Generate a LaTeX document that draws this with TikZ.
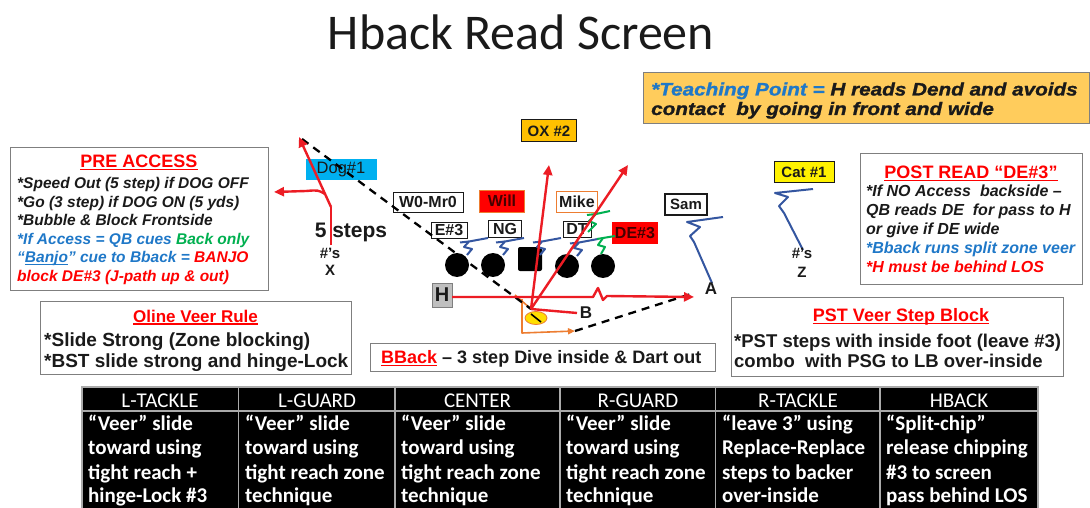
\documentclass[tikz,border=0pt]{standalone}
\usepackage{fontspec}
\setmainfont{Liberation Sans}
\newfontfamily\calfont{Carlito}
\newfontfamily\tpfont[FakeStretch=1.15,BoldItalicFeatures={FakeBold=1.2}]{Liberation Sans}
\usetikzlibrary{arrows.meta,shapes.geometric}

\definecolor{ink}{RGB}{26,26,26}
\definecolor{txtred}{RGB}{255,0,0}
\definecolor{txtblue}{RGB}{31,120,200}
\definecolor{txtgreen}{RGB}{0,176,80}
\definecolor{routered}{RGB}{236,28,36}
\definecolor{blkblue}{RGB}{52,86,160}
\definecolor{boxgray}{RGB}{127,127,127}
\definecolor{tpfill}{RGB}{255,204,92}
\definecolor{oxfill}{RGB}{255,192,0}
\definecolor{dogfill}{RGB}{0,176,240}
\definecolor{orangeln}{RGB}{237,125,49}
\definecolor{hgray}{RGB}{191,191,191}
\definecolor{qbyellow}{RGB}{255,222,0}
\definecolor{gridgray}{RGB}{170,170,170}
\definecolor{darkred}{RGB}{70,0,0}

% underline drawn in the current text colour
\newcommand{\undl}[1]{\leavevmode\setbox0\hbox{#1}\rlap{\rule[-0.15em]{\wd0}{0.075em}}\box0}

\begin{document}
\begin{tikzpicture}[x=1pt,y=-1pt,
  panel/.style={draw=boxgray,line width=1.3pt,fill=white},
  itline/.style={inner sep=0pt,anchor=base west,text=ink,font=\fontsize{15.5}{18}\selectfont\bfseries\itshape},
  postline/.style={itline,font=\fontsize{16}{18}\selectfont\bfseries\itshape},
  upline/.style={inner sep=0pt,anchor=base west,text=ink,font=\fontsize{19}{21}\selectfont\bfseries},
  pstline/.style={upline,font=\fontsize{18.5}{21}\selectfont\bfseries},
  headred/.style={inner sep=0pt,anchor=base,text=txtred,font=\fontsize{18}{20}\selectfont\bfseries},
  tpline/.style={inner sep=0pt,anchor=base west,text=ink,font=\tpfont\fontsize{18}{20}\selectfont\bfseries\itshape},
  tag/.style={draw=ink,line width=1pt,inner sep=0pt,text=ink,font=\fontsize{16}{17}\selectfont\bfseries},
  tagthin/.style={tag,font=\fontsize{16.5}{17}\selectfont},
  tagbold/.style={tag,font=\fontsize{15}{16}\selectfont\bfseries},
  fieldmark/.style={inner sep=0pt,text=ink,font=\fontsize{15}{16}\selectfont\bfseries},
  lineman/.style={circle,fill=black,minimum size=24pt,inner sep=0pt},
  route/.style={draw=routered,line width=2.4pt,line join=round,-{Triangle[length=10pt,width=9pt]}},
  routeplain/.style={draw=routered,line width=2.4pt,line join=round},
  readline/.style={draw=black,line width=2.3pt,dash pattern=on 8pt off 6pt},
  react/.style={draw=blkblue,line width=2pt,line join=round},
  reactg/.style={draw=txtgreen,line width=2pt,line join=round},
  bbpath/.style={draw=orangeln,line width=1.6pt,line join=round},
  hdr/.style={inner sep=0pt,anchor=base,text=white,font=\calfont\fontsize{21}{21}\selectfont},
  cell/.style={inner sep=0pt,anchor=base west,text=white,font=\calfont\bfseries\fontsize{21}{21}\selectfont}
]
\useasboundingbox (0,0) rectangle (1090,508);
\fill[white] (0,0) rectangle (1090,508);

% ---------- title ----------
\node[inner sep=0pt,anchor=base,text=ink,font={\calfont\fontsize{50}{50}\selectfont}] (title) at (521,50) {Hback Read Screen};

% ---------- teaching point ----------
\node[draw=boxgray,line width=1pt,fill=tpfill,minimum width=446pt,minimum height=51pt,inner sep=0pt,anchor=north west] (tpbox) at (643,72) {};
\node[tpline] (tp1) at (651,95.5) {{\color{txtblue}*Teaching Point = }H reads Dend and avoids};
\node[tpline] (tp2) at (651,115) {contact\ \ by going in front and wide};

% ---------- pre access ----------
\node[panel,minimum width=258pt,minimum height=143pt,inner sep=0pt,anchor=north west] (prebox) at (10,147) {};
\node[headred] (pretitle) at (139,167.5) {\undl{PRE ACCESS}};
\node[itline] (pa1) at (17,188.3) {*Speed Out (5 step) if DOG OFF};
\node[itline] (pa2) at (17,207.3) {*Go (3 step) if DOG ON (5 yds)};
\node[itline] (pa3) at (17,225.6) {*Bubble \& Block Frontside};
\node[itline] (pa4) at (17,244.9) {{\color{txtblue}*If Access = QB cues }{\color{txtgreen}Back only}};
\node[itline] (pa5) at (17,262.9) {{\color{txtblue}“\undl{Banjo}” cue to Bback = }{\color{txtred}BANJO}};
\node[itline,text=txtred] (pa6) at (17,281.6) {block DE\#3 (J-path up \& out)};

% ---------- post read ----------
\node[panel,minimum width=222pt,minimum height=131pt,inner sep=0pt,anchor=north west] (postbox) at (860,153) {};
\node[headred] (posttitle) at (971,178.5) {\undl{POST READ “DE\#3”}};
\node[postline] (pr1) at (866,196.8) {*If NO Access\ \ backside –};
\node[postline] (pr2) at (866,215.8) {QB reads DE\ \ for pass to H};
\node[postline] (pr3) at (866,234.8) {or give if DE wide};
\node[postline,text=txtblue] (pr4) at (866,253.8) {*Bback runs split zone veer};
\node[postline,text=txtred] (pr5) at (866,272.8) {*H must be behind LOS};

% ---------- oline veer rule ----------
\node[panel,minimum width=311pt,minimum height=73pt,inner sep=0pt,anchor=north west] (olbox) at (40,301) {};
\node[headred,font=\fontsize{17}{19}\selectfont\bfseries] (oltitle) at (195.5,322) {\undl{Oline Veer Rule}};
\node[upline] (ol1) at (44,346) {*Slide Strong (Zone blocking)};
\node[upline] (ol2) at (44,367) {*BST slide strong and hinge-Lock};

% ---------- pst veer step block ----------
\node[panel,minimum width=332pt,minimum height=79pt,inner sep=0pt,anchor=north west] (pstbox) at (731,297) {};
\node[headred] (psttitle) at (901,321.5) {\undl{PST Veer Step Block}};
\node[pstline] (ps1) at (734,347) {*PST steps with inside foot (leave \#3)};
\node[pstline] (ps2) at (734,367.5) {combo\ \ with PSG to LB over-inside};

% ---------- bback ----------
\node[panel,minimum width=345pt,minimum height=28pt,inner sep=0pt,anchor=north west] (bbbox) at (370,343) {};
\node[pstline,font=\fontsize{18}{20}\selectfont\bfseries] (bbtext) at (381,363.5) {{\color{txtred}\undl{BBack}} – 3 step Dive inside \& Dart out};

% ---------- defenders ----------
\node[tagbold,fill=oxfill,minimum width=55pt,minimum height=22pt] (ox) at (549,131) {OX \#2};
\node[tagthin,draw=none,fill=dogfill,minimum width=71pt,minimum height=21pt] (dog) at (341,170) {Dog\#1};
\node[tag,fill=white,minimum width=70pt,minimum height=20pt] (wm) at (428,202) {W0-Mr0};
\node[tag,fill=txtred,draw=orangeln,text=darkred,minimum width=45pt,minimum height=22pt] (will) at (502,201) {Will};
\node[tag,fill=white,draw=orangeln,minimum width=41pt,minimum height=21pt] (mike) at (577,202) {Mike};
\node[tag,fill=white,minimum width=36pt,minimum height=16pt] (e3) at (449,230) {E\#3};
\node[tag,fill=white,minimum width=33pt,minimum height=17pt] (ng) at (505,229) {NG};
\node[tag,fill=white,minimum width=28pt,minimum height=16pt] (dt) at (577,229) {DT};
\node[tag,fill=txtred,draw=none,text=darkred,minimum width=46pt,minimum height=22pt] (de3) at (635,233) {DE\#3};
\node[tagbold,fill=white,line width=2pt,minimum width=42pt,minimum height=21pt] (sam) at (686,204) {Sam};
\node[tagbold,fill=yellow,minimum width=60pt,minimum height=21pt] (cat) at (804,172) {Cat \#1};

% ---------- offensive line ----------
\node[lineman] (lt) at (457,265) {};
\node[lineman] (lg) at (493,265) {};
\node[fill=black,minimum size=24pt,inner sep=0pt,rounded corners=2pt] (ctr) at (530,259) {};
\node[lineman] (rg) at (567,266) {};
\node[lineman] (rt) at (603,266) {};
\node[draw=boxgray,line width=1pt,fill=hgray,minimum width=20pt,minimum height=24pt,inner sep=0pt,text=ink,font=\fontsize{20}{20}\selectfont\bfseries] (hb) at (442,295) {H};

% slide blocks of the line
\foreach \cx/\cy in {457/265,493/265,530/265,567/266}{
  \draw[react,shift={(\cx,\cy)}] (10,-10) -- (15,-16) -- (7,-18) -- (12,-23.5) -- (31,-27);
  \draw[react,shift={(\cx,\cy)}] (12,-23.5) -- (3,-22.5);
}
% right tackle combo
\draw[reactg] (601,254) -- (605,247) -- (598,245) -- (603,238) -- (615,236);
\draw[reactg] (603,238) -- (597,239);
\draw[reactg] (588,232) -- (596,224) -- (589,221) -- (596,214) -- (610,211);
\draw[reactg] (596,214) -- (587,215);

% reactions of the edge defenders
\draw[react] (723,217) -- (687,222) -- (700,227) -- (690,236) -- (694,242) -- (712,283);
\draw[react] (813,189) -- (775,193) -- (788,197) -- (779,206) -- (784,213) -- (803,250);

% ---------- marks ----------
\node[fieldmark,font=\fontsize{21}{21}\selectfont\bfseries] (steps) at (351,232) {5 steps};
\node[fieldmark] (xnum) at (330,253) {\#'s};
\node[fieldmark] (xlab) at (330,270) {X};
\node[fieldmark] (znum) at (802,253) {\#'s};
\node[fieldmark] (zlab) at (802,272) {Z};
\node[fieldmark,font=\fontsize{17}{17}\selectfont\bfseries] (alab) at (711,289) {A};
\node[fieldmark,font=\fontsize{17}{17}\selectfont\bfseries] (blab) at (586,313) {B};

% quarterback
\node[ellipse,draw=orangeln,line width=0.8pt,fill=qbyellow,minimum width=22pt,minimum height=13pt,inner sep=0pt] (qbball) at (536,318) {};
\draw[black,line width=1.6pt] (qbball.center) ++(-5,-4) -- ++(10,8);

% ---------- route points ----------
\coordinate (xstart) at (331,245);
\coordinate (xbreak) at (331,207);
\coordinate (xsplit) at (325,194);
\coordinate (xgo) at (299,137);
\coordinate (xout) at (274,192);
\coordinate (readtop) at (302,139);
\coordinate (qb) at (531,309);
\coordinate (diveA) at (549,165);
\coordinate (diveB) at (628,165);
\coordinate (bend) at (577,313);
\coordinate (hstart) at (452,297);
\coordinate (hend) at (694,297);
\coordinate (bbturn) at (522,333);
\coordinate (bbend) at (575,331);
\coordinate (apoint) at (694,293);

% orange bback path
\draw[bbpath] (515,295) -- (qb);
\draw[bbpath,-{Triangle[length=7pt,width=6pt]}] (522,299) -- (bbturn) -- (bbend);

% read lines
\draw[readline] (readtop) -- (qb);
\draw[readline] (bbend) -- (apoint);

% X receiver
\draw[routeplain] (xstart) -- (xbreak);
\draw[route] (xbreak) -- (xgo);
\draw[route] (xsplit) .. controls (318,190) .. (306,191) -- (xout);

% H release
\draw[route] (hstart) -- (593,297) -- (598,288) -- (603,300) -- (607,296) -- (hend);

% dive / read arrows from the mesh point
\draw[route] (qb) -- (diveA);
\draw[route] (qb) -- (diveB);
\draw[routeplain] (qb) -- (bend);

% ---------- assignment table ----------
\begin{scope}
\clip (0,0) rectangle (1090,508);
\fill[black] (82,387) rectangle (1038,515);
\draw[gridgray,line width=1.2pt] (82,387) rectangle (1038,515);
\draw[gridgray,line width=1.2pt] (82,411) -- (1038,411);
\foreach \sx in {238.5,395,560,715.5,880}{
  \draw[gridgray,line width=1.2pt] (\sx,387) -- (\sx,515);
}
\foreach \i/\cx/\lx/\hd/\la/\lb/\lc/\ld in {
  1/160/88/L-TACKLE/“Veer” slide/toward using/tight reach +/hinge-Lock \#3,
  2/317/245/L-GUARD/“Veer” slide/toward using/tight reach zone/technique,
  3/477.5/401/CENTER/“Veer” slide/toward using/tight reach zone/technique,
  4/638/566/R-GUARD/“Veer” slide/toward using/tight reach zone/technique,
  5/798/722/R-TACKLE/“leave 3” using/Replace-Replace/steps to backer/over-inside,
  6/959/886/HBACK/“Split-chip”/release chipping/\#3 to screen/pass behind LOS}{
  \node[hdr] (hd\i) at (\cx,407) {\hd};
  \node[cell] (ca\i) at (\lx,430) {\la};
  \node[cell] (cb\i) at (\lx,454.5) {\lb};
  \node[cell] (cc\i) at (\lx,479) {\lc};
  \node[cell] (cd\i) at (\lx,502.5) {\ld};
}
\end{scope}
\end{tikzpicture}
\end{document}
